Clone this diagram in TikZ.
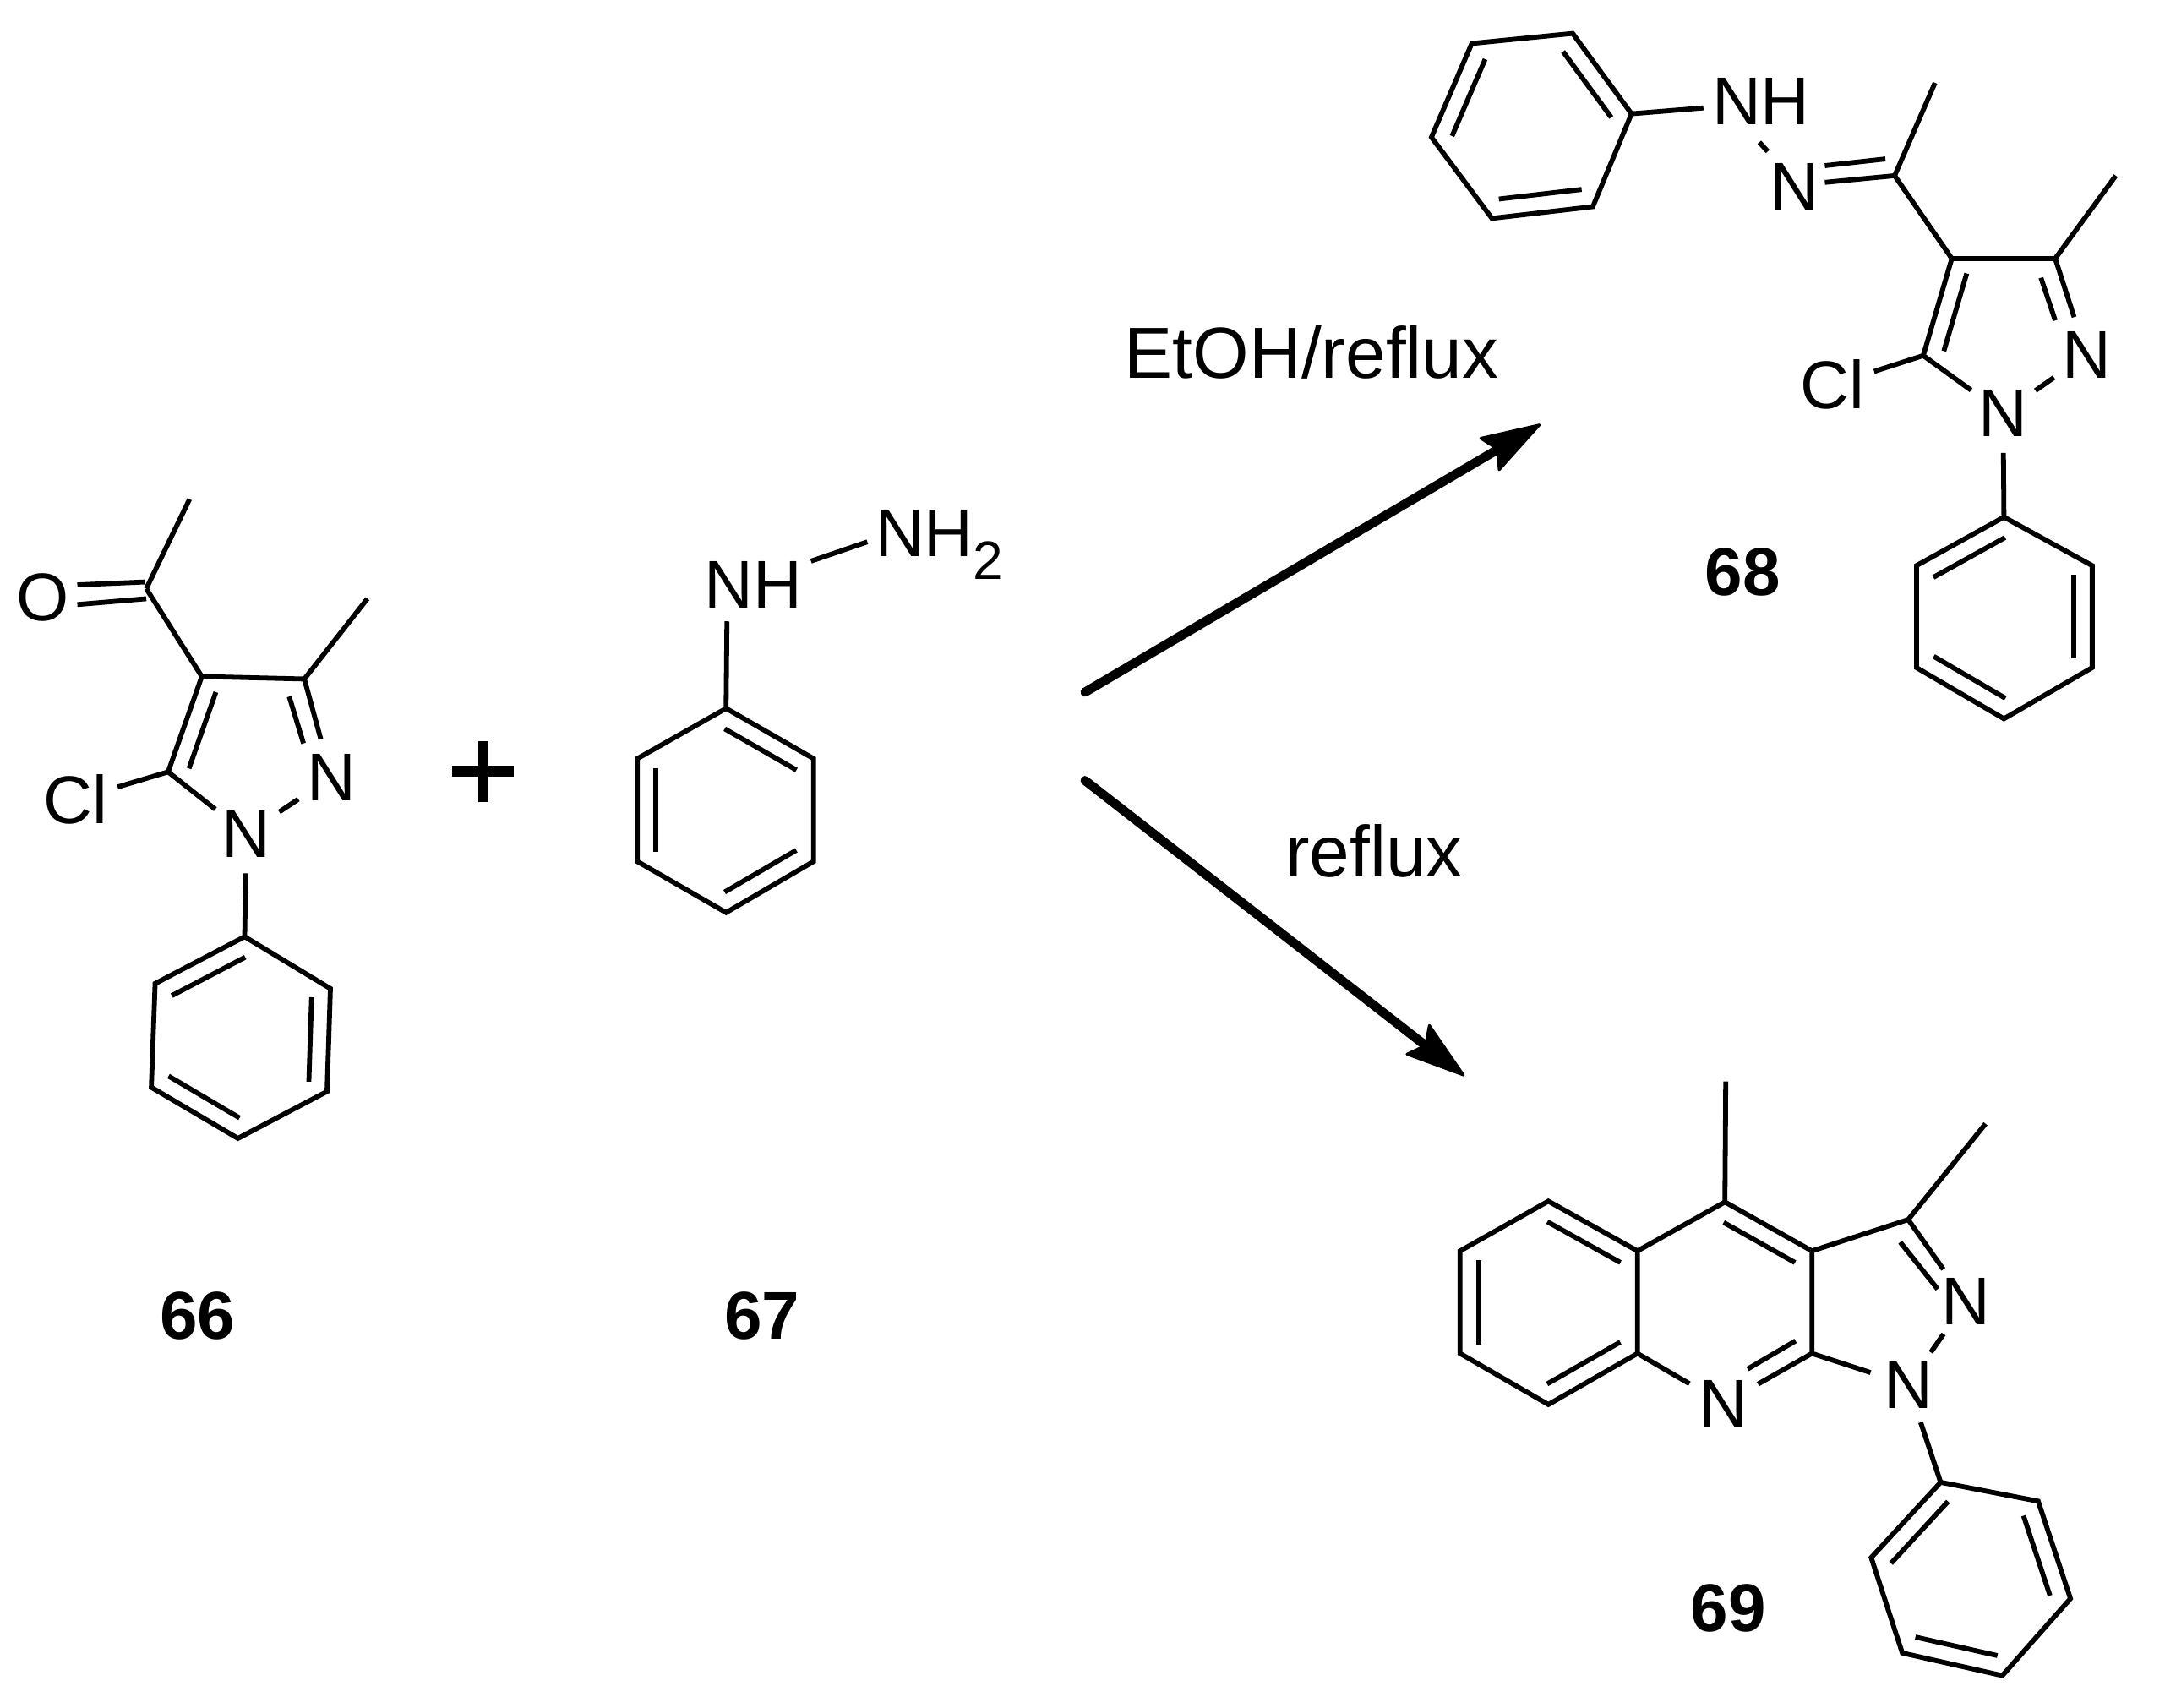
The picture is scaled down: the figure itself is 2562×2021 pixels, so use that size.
\documentclass[tikz,border=0pt]{standalone}
\usepackage{fontspec}
\setmainfont{Liberation Sans}
\usetikzlibrary{calc,arrows.meta}
\newcommand{\inbond}[3][0.09]{\draw[bond] ($(#2)!#1!(#3)!5.5pt!90:(#3)$) -- ($(#3)!#1!(#2)!-5.5pt!90:(#2)$);}
\newcommand{\ptset}[3]{\coordinate (#1) at (#2,#3);}
\tikzset{
  bond/.style={line width=1.45pt,line join=miter,draw=black},
  atom/.style={circle,minimum size=23pt,inner sep=0pt,font=\fontsize{20}{20}\selectfont},
  chlor/.style={atom,minimum size=25.5pt},
  plain/.style={inner sep=0pt,font=\fontsize{20}{20}\selectfont},
  cond/.style={inner sep=0pt,font=\fontsize{21.4}{22}\selectfont},
  cpd/.style={inner sep=0pt,font=\fontsize{20}{20}\selectfont\bfseries},
  rxn/.style={line width=2.7pt,line cap=round,-{Stealth[length=19pt,width=12pt,inset=3pt,line width=0.8pt,round]}},
  plusbar/.style={fill=black,draw=none}
}
\begin{document}
\begin{tikzpicture}[x=0.25pt,y=-0.25pt]
\useasboundingbox (0,0) rectangle (2562,2021);
% ---------- 66
\begin{scope}[shift={(0,5.5)},xscale=0.9949,yscale=0.99]
\ptset{aMe}{225.5}{591}\ptset{aCO}{174}{698}\ptset{aC4}{240}{803}\ptset{aC3}{362}{806}
\ptset{aMeB}{437}{710}\ptset{aC5}{200}{917}\ptset{aP1}{291}{1114}\ptset{aP2}{184.5}{1170}
\ptset{aP3}{180}{1294}\ptset{aP4}{283}{1355}\ptset{aP5}{389}{1299}\ptset{aP6}{393}{1176}
\ptset{aOa}{92}{693.5}\ptset{aOb}{172}{690}\ptset{aOc}{92}{717}\ptset{aOd}{174}{710}
\ptset{aNa}{344}{827}\ptset{aNb}{361}{883}
\node[atom] (aO) at (51,709) {O};
\node[chlor] (aCl) at (90,950) {Cl};
\node[atom] (aN2) at (394,923.5) {N};
\node[atom] (aN1) at (293,991) {N};
\draw[bond] (aCO) -- (aMe);
\draw[bond] (aOa) -- (aOb);
\draw[bond] (aOc) -- (aOd);
\draw[bond] (aCO) -- (aC4) -- (aC3) -- (aMeB);
\draw[bond] (aC4) -- (aC5);
\inbond[0.1]{aC4}{aC5}
\draw[bond] (aC3) -- (aN2);
\draw[bond] (aNa) -- (aNb);
\draw[bond] (aC5) -- (aCl);
\draw[bond] (aC5) -- (aN1);
\draw[bond] (aN1) -- (aN2);
\draw[bond] (aN1) -- (aP1);
\draw[bond] (aP1) -- (aP2) -- (aP3) -- (aP4) -- (aP5) -- (aP6) -- cycle;
\inbond{aP1}{aP2}\inbond{aP3}{aP4}\inbond{aP5}{aP6}
\fill[plusbar] (538,910) rectangle (611,923);
\fill[plusbar] (569,880) rectangle (581,953);
\end{scope}
\node[cpd] (lab66) at (234,1557) {66};
% ---------- 67
\begin{scope}[shift={(2.65,5.6)},xscale=0.9949,yscale=0.99]
\ptset{bP1}{861}{841}\ptset{bP2}{755.5}{901}\ptset{bP3}{755.5}{1024}\ptset{bP4}{861}{1085}
\ptset{bP5}{965}{1024}\ptset{bP6}{965}{901}\ptset{bNa}{862}{737}\ptset{bNb}{962}{665}\ptset{bNc}{1029}{642}
\node[plain] (bNH) at (893.5,693) {NH};
\node[plain,anchor=base west] (bNHH) at (1038,660) {NH\raisebox{-6.6pt}{\fontsize{16}{16}\selectfont 2}};
\draw[bond] (bNa) -- (bP1);
\draw[bond] (bNb) -- (bNc);
\draw[bond] (bP1) -- (bP2) -- (bP3) -- (bP4) -- (bP5) -- (bP6) -- cycle;
\inbond{bP2}{bP3}\inbond{bP4}{bP5}\inbond{bP6}{bP1}
\end{scope}
\node[cpd] (lab67) at (902,1557) {67};
% ---------- arrows
\coordinate (arrAs) at (1284,819);\coordinate (arrAe) at (1823,502);
\coordinate (arrBs) at (1284,923.5);\coordinate (arrBe) at (1733,1273);
\draw[rxn] (arrAs) -- (arrAe);
\draw[rxn] (arrBs) -- (arrBe);
\node[cond] (condA) at (1552,417) {EtOH/reflux};
\node[cond] (condB) at (1626,1007) {reflux};
% ---------- 68
\begin{scope}[shift={(8.57,0)},xscale=0.9949,yscale=0.99]
\ptset{cQ1}{1742}{52}\ptset{cQ2}{1862}{40}\ptset{cQ3}{1932}{136}\ptset{cQ4}{1886}{247}\ptset{cQ5}{1766}{261}\ptset{cQ6}{1694}{164}
\ptset{cNa}{2017.5}{129}\ptset{cNb}{2084}{170}\ptset{cNc}{2094}{181}
\ptset{cDa}{2162}{198}\ptset{cDb}{2234}{190}\ptset{cDc}{2162}{218}
\ptset{cCN}{2245}{210}\ptset{cMe}{2293}{99}\ptset{cC4}{2313}{309}\ptset{cC3}{2436}{309}\ptset{cMeB}{2508}{210}\ptset{cC5}{2279}{425}
\ptset{cEa}{2419}{332}\ptset{cEb}{2436}{383}
\ptset{cP1}{2375}{618}\ptset{cP2}{2271}{676}\ptset{cP3}{2271}{798}\ptset{cP4}{2375}{859}\ptset{cP5}{2480}{798}\ptset{cP6}{2480}{676}
\node[plain] (cNH) at (2086,121) {NH};
\node[plain] (cN) at (2126,223) {N};
\node[atom] (cN2) at (2473,424) {N};
\node[atom] (cN1) at (2374,494) {N};
\node[chlor] (cCl) at (2171,460) {Cl};
\draw[bond] (cQ1) -- (cQ2) -- (cQ3) -- (cQ4) -- (cQ5) -- (cQ6) -- cycle;
\inbond{cQ3}{cQ2}\inbond{cQ5}{cQ4}\inbond{cQ1}{cQ6}
\draw[bond] (cQ3) -- (cNa);
\draw[bond] (cNb) -- (cNc);
\draw[bond] (cDa) -- (cDb);
\draw[bond] (cDc) -- (cCN);
\draw[bond] (cMe) -- (cCN) -- (cC4) -- (cC3) -- (cMeB);
\draw[bond] (cC4) -- (cC5);
\inbond[0.1]{cC4}{cC5}
\draw[bond] (cC3) -- (cN2);
\draw[bond] (cEa) -- (cEb);
\draw[bond] (cC5) -- (cCl);
\draw[bond] (cC5) -- (cN1);
\draw[bond] (cN1) -- (cN2);
\draw[bond] (cN1) -- (cP1);
\draw[bond] (cP1) -- (cP2) -- (cP3) -- (cP4) -- (cP5) -- (cP6) -- cycle;
\inbond{cP1}{cP2}\inbond{cP3}{cP4}\inbond{cP5}{cP6}
\end{scope}
\node[cpd] (lab68) at (2062,677) {68};
% ---------- 69
\begin{scope}[shift={(8.67,12.5)},xscale=0.9949,yscale=0.99]
\ptset{dB1}{1833}{1423}\ptset{dB2}{1728}{1482.5}\ptset{dB3}{1728}{1605}\ptset{dB4}{1833}{1666}\ptset{dB5}{1939}{1605}\ptset{dB6}{1939}{1482.5}
\ptset{dC4}{2043}{1424}\ptset{dMe}{2044}{1280}\ptset{dC3a}{2146.5}{1482.5}\ptset{dC8a}{2146.5}{1605}
\ptset{dC3}{2261}{1445}\ptset{dMeB}{2353}{1330.5}
\ptset{dFa}{2070}{1623.6}\ptset{dFb}{2127}{1590}\ptset{dGa}{2251.5}{1472}\ptset{dGb}{2296}{1528}
\ptset{dP1}{2299.6}{1759}\ptset{dP2}{2415.6}{1781.6}\ptset{dP3}{2454}{1898}\ptset{dP4}{2373}{1990}\ptset{dP5}{2254}{1963}\ptset{dP6}{2217}{1849}
\node[atom] (dN) at (2041.5,1665) {N};
\node[atom] (dN2) at (2330,1543) {N};
\node[atom] (dN1) at (2261,1642.5) {N};
\draw[bond] (dB1) -- (dB2) -- (dB3) -- (dB4) -- (dB5) -- (dB6) -- cycle;
\inbond{dB6}{dB1}\inbond{dB2}{dB3}\inbond{dB4}{dB5}
\draw[bond] (dMe) -- (dC4);
\draw[bond] (dB6) -- (dC4) -- (dC3a) -- (dC8a);
\inbond{dC3a}{dC4}
\draw[bond] (dC3a) -- (dC3) -- (dMeB);
\draw[bond] (dB5) -- (dN);
\draw[bond] (dN) -- (dC8a);
\draw[bond] (dFa) -- (dFb);
\draw[bond] (dC8a) -- (dN1);
\draw[bond] (dC3) -- (dN2);
\draw[bond] (dGa) -- (dGb);
\draw[bond] (dN1) -- (dN2);
\draw[bond] (dN1) -- (dP1);
\draw[bond] (dP1) -- (dP2) -- (dP3) -- (dP4) -- (dP5) -- (dP6) -- cycle;
\inbond{dP1}{dP6}\inbond{dP3}{dP2}\inbond{dP5}{dP4}
\end{scope}
\node[cpd] (lab69) at (2045,1903) {69};
\end{tikzpicture}
\end{document}
